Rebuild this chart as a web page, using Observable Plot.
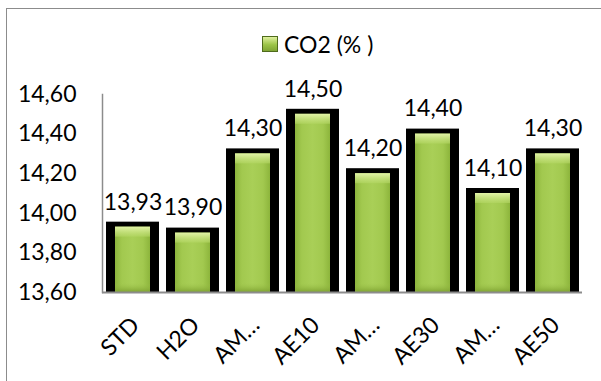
<!DOCTYPE html>
<html>
<head>
<meta charset="utf-8">
<script src="https://cdn.jsdelivr.net/npm/d3@7"></script>
<script src="https://cdn.jsdelivr.net/npm/@observablehq/plot@0.6"></script>
<style>
  html, body { margin: 0; padding: 0; background: #fff; overflow: hidden; }
  #wrap { position: relative; width: 601px; height: 381px; font-family: Lato, "Open Sans", sans-serif; }
  #border { position: absolute; left: 6px; top: 8px; width: 700px; height: 500px;
            border-left: 1.5px solid #8c8c8c; border-top: 1.5px solid #8c8c8c; }
  #legend { position: absolute; left: 262px; top: 29px; height: 30px; display: flex; align-items: center;
            font-size: 23px; color: #000; }
  #legend .swatch { width: 14px; height: 14px; margin-right: 6px; border: 1px solid #4f6b1c;
                    background: linear-gradient(#dff09e, #9cc447 55%, #7fa533); }
  #chart { position: absolute; left: 0; top: 0; }
</style>
</head>
<body>
<div id="wrap">
  <div id="border"></div>
  <div id="legend"><span class="swatch"></span><span>CO2 (% )</span></div>
  <div id="chart"></div>
</div>
<script>
// CO2 share (%) per sample
const labels = ["STD", "H2O", "AM…", "AE10", "AM…", "AE30", "AM…", "AE50"];
const co2 = [13.93, 13.90, 14.30, 14.50, 14.20, 14.40, 14.10, 14.30];
const yTicks = [13.6, 13.8, 14.0, 14.2, 14.4, 14.6];

const rows = labels.map((label, i) => ({i, label, value: co2[i]}));
const comma = (v) => d3.format(".2f")(v).replace(".", ",");
const base = 13.6;

const plot = Plot.plot({
  width: 601,
  height: 381,
  marginTop: 94,
  marginBottom: 89,
  marginLeft: 102,
  marginRight: 19,
  style: {fontFamily: "Lato, 'Open Sans', sans-serif", fontSize: "23px", color: "#000", background: "transparent", overflow: "visible"},
  x: {type: "band", domain: rows.map(d => d.i), paddingInner: 0.12, paddingOuter: 0.06, axis: null},
  y: {domain: [13.6, 14.6], axis: null},
  marks: [
    // black frame around each bar
    Plot.barY(rows, {x: "i", y1: () => base, y2: "value", fill: "#000", insetTop: -5, insetBottom: -1}),
    // green body
    Plot.barY(rows, {x: "i", y1: () => base, y2: "value", fill: "url(#barBody)", insetLeft: 9, insetRight: 9}),
    // light bevel along the top edge
    Plot.barY(rows, {x: "i", y1: "value", y2: "value", fill: "url(#barTop)", insetLeft: 9, insetRight: 9, insetBottom: -10}),
    // darker bevel along the bottom edge
    Plot.barY(rows, {x: "i", y1: () => base, y2: () => base, fill: "url(#barBottom)", insetLeft: 9, insetRight: 9, insetTop: -9}),
    Plot.ruleY([base], {stroke: "#8c8c8c", strokeWidth: 2}),
    Plot.frame({anchor: "left", stroke: "#8c8c8c", strokeWidth: 1.5}),
    Plot.axisY(yTicks, {tickSize: 0, tickPadding: 26, tickFormat: comma, fontSize: 23, fill: "#000", label: null}),
    // value labels
    Plot.text(rows, {x: "i", y: "value", text: d => comma(d.value), dy: -25, fontSize: 23, fill: "#000"}),
    // rotated category labels
    Plot.text(rows, {x: "i", text: "label", frameAnchor: "bottom", rotate: -45, textAnchor: "end",
                     dx: 8, dy: 34, fontSize: 23, fill: "#000"})
  ]
});

// gradients for the bevelled bar look
const svg = d3.select(plot);
const defs = svg.insert("defs", ":first-child");
const bodyGrad = defs.append("linearGradient").attr("id", "barBody").attr("x1", 0).attr("x2", 1).attr("y1", 0).attr("y2", 0);
bodyGrad.append("stop").attr("offset", "0%").attr("stop-color", "#8db53c");
bodyGrad.append("stop").attr("offset", "20%").attr("stop-color", "#a2c94f");
bodyGrad.append("stop").attr("offset", "50%").attr("stop-color", "#a9cf57");
bodyGrad.append("stop").attr("offset", "80%").attr("stop-color", "#a2c94f");
bodyGrad.append("stop").attr("offset", "100%").attr("stop-color", "#8db53c");
const topGrad = defs.append("linearGradient").attr("id", "barTop").attr("x1", 0).attr("x2", 0).attr("y1", 0).attr("y2", 1);
topGrad.append("stop").attr("offset", "0%").attr("stop-color", "#e3f4a8");
topGrad.append("stop").attr("offset", "100%").attr("stop-color", "#b4d764").attr("stop-opacity", 0.6);
const bottomGrad = defs.append("linearGradient").attr("id", "barBottom").attr("x1", 0).attr("x2", 0).attr("y1", 0).attr("y2", 1);
bottomGrad.append("stop").attr("offset", "0%").attr("stop-color", "#9cc24a").attr("stop-opacity", 0);
bottomGrad.append("stop").attr("offset", "100%").attr("stop-color", "#7fa332");

document.getElementById("chart").appendChild(plot);
</script>
</body>
</html>
